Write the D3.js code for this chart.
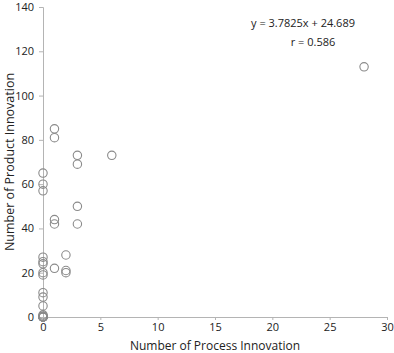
<!DOCTYPE html>
<html>
<head>
<meta charset="utf-8">
<script src="https://cdn.jsdelivr.net/npm/d3@7"></script>
<style>
  body { margin: 0; background: #fff; }
  text { font-family: "Open Sans", "Noto Sans", sans-serif; fill: #222; }
</style>
</head>
<body>
<div id="chart"></div>
<script>
// process innovation (x) and product innovation (y) per firm
const processInnov = [
  0, 0, 0, 0, 0, 0, 0, 0, 0, 0, 0, 0, 0, 0, 0, 0, 0, 0, 0, 0,
  1, 1, 1, 1, 1,
  2, 2, 2,
  3, 3, 3, 3,
  6,
  28
];
const productInnov = [
  65, 60, 57, 27, 25, 24, 20, 19, 11, 9, 5, 1, 0.5, 0, 0, 0, 0, 0, 0, 0,
  85, 81, 44, 42, 22,
  28, 21, 20,
  73, 69, 50, 42,
  73,
  113
];
const xTicks = [0, 5, 10, 15, 20, 25, 30];
const yTicks = [0, 20, 40, 60, 80, 100, 120, 140];
const equationText = 'y = 3.7825x + 24.689';
const rText = 'r = 0.586';

const width = 394;
const height = 353;
const margin = { top: 7, right: 7, bottom: 36, left: 43 };

const svg = d3.select('#chart')
  .append('svg')
  .attr('width', width)
  .attr('height', height);

const x = d3.scaleLinear()
  .domain([0, 30])
  .range([margin.left, width - margin.right]);
const y = d3.scaleLinear()
  .domain([0, 140])
  .range([height - margin.bottom, margin.top]);

const axisColor = '#b4b4b4';

// x axis
svg.append('g')
  .attr('transform', `translate(0, ${y(0)})`)
  .call(d3.axisBottom(x).tickValues(xTicks).tickSizeOuter(0).tickSize(3).tickPadding(3))
  .call((g) => g.select('.domain').attr('stroke', axisColor))
  .call((g) => g.selectAll('.tick line').attr('stroke', axisColor))
  .call((g) => g.selectAll('.tick text').style('font-size', '11px').attr('fill', '#222'));

// y axis
svg.append('g')
  .attr('transform', `translate(${x(0)}, 0)`)
  .call(d3.axisLeft(y).tickValues(yTicks).tickSizeOuter(0).tickSize(4).tickPadding(5))
  .call((g) => g.select('.domain').attr('stroke', axisColor))
  .call((g) => g.selectAll('.tick line').attr('stroke', axisColor))
  .call((g) => g.selectAll('.tick text').style('font-size', '11px').attr('fill', '#222'));

// axis titles
svg.append('text')
  .attr('x', (x(0) + x(30)) / 2)
  .attr('y', height - 3)
  .attr('text-anchor', 'middle')
  .style('font-size', '12px')
  .text('Number of Process Innovation');

svg.append('text')
  .attr('transform', `translate(14, ${(y(0) + y(140)) / 2}) rotate(-90)`)
  .attr('text-anchor', 'middle')
  .style('font-size', '12.5px')
  .text('Number of Product Innovation');

// points
svg.selectAll('.dot')
  .data(processInnov.map((d, i) => [d, productInnov[i]]))
  .enter()
  .append('circle')
  .attr('class', 'dot')
  .attr('cx', (d) => x(d[0]))
  .attr('cy', (d) => y(d[1]))
  .attr('r', 4.2)
  .attr('fill', 'none')
  .attr('stroke', '#8a8a8a')
  .attr('stroke-width', 1.1);

// regression annotation
svg.append('text')
  .attr('x', 303)
  .attr('y', 27)
  .attr('text-anchor', 'middle')
  .style('font-size', '11px')
  .text(equationText);

svg.append('text')
  .attr('x', 313)
  .attr('y', 46)
  .attr('text-anchor', 'middle')
  .style('font-size', '11px')
  .text(rText);
</script>
</body>
</html>
